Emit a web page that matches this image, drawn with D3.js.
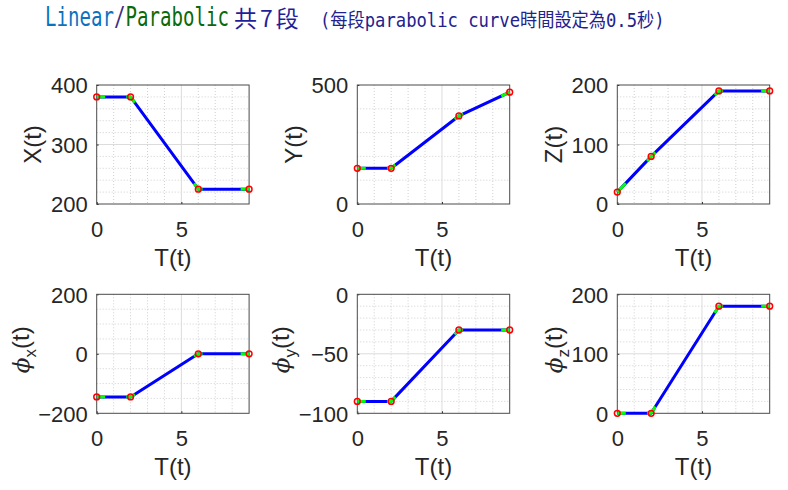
<!DOCTYPE html>
<html><head><meta charset="utf-8">
<script src="https://cdn.jsdelivr.net/npm/d3@7"></script>
<style>body{margin:0;background:#fff} svg{display:block}</style>
</head><body><svg id="c" width="788" height="490"></svg>
<script>
// ---------------- data ----------------
const times = [0, 2, 6, 9];          // via-point times (s)
const blendDuration = 0.5;            // parabolic blend length (s)
const xTickValues = [0, 5];
const xMinorStep = 1;
const xDomain = [0, 9];
const xLabel = "T(t)";

const xSeries    = [380, 380, 225, 225];
const ySeries    = [150, 150, 370, 470];
const zSeries    = [20, 80, 190, 190];
const phiXSeries = [-145, -145, 0, 0];
const phiYSeries = [-90, -90, -30, -30];
const phiZSeries = [0, 0, 180, 180];

const panelNames   = ["X", "Y", "Z", "x", "y", "z"];   // last three are ϕ subscripts
const yDomains     = [[200, 400], [0, 500], [0, 200], [-200, 200], [-100, 0], [0, 200]];
const yTickValues  = [[200, 300, 400], [0, 500], [0, 100, 200], [-200, 0, 200], [-100, -50, 0], [0, 100, 200]];
const yMinorSteps  = [20, 100, 20, 50, 10, 20];

const titleHead = [
  {text: "Linear", color: "#0a72c0"},
  {text: "/", color: "#3b2f86"},
  {text: "Parabolic", color: "#0a6a0a"}
];
const titleMid = "共7段";
const titleNote = "(每段parabolic curve時間設定為0.5秒)";

// ---------------- layout ----------------
const allSeries = [xSeries, ySeries, zSeries, phiXSeries, phiYSeries, phiZSeries];
const colLeft = [96.7, 357.3, 617.3];
const rowTop = [85, 294.3];
const pw = 152.4, ph = 119;
const axisColor = "#262626";
const tickFont = "'Liberation Sans', Arial, Helvetica, sans-serif";
const monoFont = "'DejaVu Sans Mono', 'Noto Sans CJK TC', monospace";

const svg = d3.select("#c");

// title: condensed with a horizontal scale so each piece fits its width
function fitText(sel, targetW) {
  const w = sel.node().getComputedTextLength();
  const x0 = +sel.attr("data-x"), y0 = +sel.attr("data-y");
  sel.attr("transform", `translate(${x0},${y0}) scale(${targetW / w},1)`);
}
const head = svg.append("text")
  .attr("data-x", 45).attr("data-y", 26)
  .attr("font-family", monoFont).attr("font-size", 26);
titleHead.forEach(p => head.append("tspan").attr("fill", p.color).text(p.text));
fitText(head, 184);
svg.append("text")
  .attr("x", 234).attr("y", 27)
  .attr("font-family", "'Noto Sans CJK TC', sans-serif").attr("font-size", 23)
  .attr("letter-spacing", 3)
  .attr("fill", "#1f1f9a").text(titleMid);
const note = svg.append("text")
  .attr("data-x", 320).attr("data-y", 26.5)
  .attr("font-family", monoFont).attr("font-size", 19)
  .attr("fill", "#22228f").text(titleNote);
fitText(note, 345);

function range(a, b, step) {
  const out = [];
  for (let v = a; v <= b + 1e-9; v += step) out.push(+v.toFixed(6));
  return out;
}

allSeries.forEach((vals, i) => {
  const col = i % 3, row = Math.floor(i / 3);
  const g = svg.append("g").attr("transform", `translate(${colLeft[col]},${rowTop[row]})`);
  const x = d3.scaleLinear().domain(xDomain).range([0, pw]);
  const y = d3.scaleLinear().domain(yDomains[i]).range([ph, 0]);

  // minor grid
  const xMinor = range(xDomain[0], xDomain[1], xMinorStep).filter(v => !xTickValues.includes(v) && v > xDomain[0] && v < xDomain[1]);
  const yMinor = range(yDomains[i][0], yDomains[i][1], yMinorSteps[i]).filter(v => !yTickValues[i].includes(v) && v > yDomains[i][0] && v < yDomains[i][1]);
  g.selectAll(".mgx").data(xMinor).join("line")
    .attr("x1", d => x(d)).attr("x2", d => x(d)).attr("y1", 0).attr("y2", ph)
    .attr("stroke", "#c4c4c4").attr("stroke-width", 0.8).attr("stroke-dasharray", "1,2");
  g.selectAll(".mgy").data(yMinor).join("line")
    .attr("y1", d => y(d)).attr("y2", d => y(d)).attr("x1", 0).attr("x2", pw)
    .attr("stroke", "#c4c4c4").attr("stroke-width", 0.8).attr("stroke-dasharray", "1,2");
  // major grid
  g.selectAll(".gx").data(xTickValues.filter(v => v > xDomain[0] && v < xDomain[1])).join("line")
    .attr("x1", d => x(d)).attr("x2", d => x(d)).attr("y1", 0).attr("y2", ph)
    .attr("stroke", "#dcdcdc").attr("stroke-width", 1);
  g.selectAll(".gy").data(yTickValues[i].filter(v => v > yDomains[i][0] && v < yDomains[i][1])).join("line")
    .attr("y1", d => y(d)).attr("y2", d => y(d)).attr("x1", 0).attr("x2", pw)
    .attr("stroke", "#dcdcdc").attr("stroke-width", 1);

  // axes
  const xAx = g.append("g").attr("transform", `translate(0,${ph})`)
    .call(d3.axisBottom(x).tickValues(xTickValues).tickSizeInner(-2).tickSizeOuter(0).tickPadding(17).tickFormat(d3.format("d")));
  const yAx = g.append("g")
    .call(d3.axisLeft(y).tickValues(yTickValues[i]).tickSizeInner(-2).tickSizeOuter(0).tickPadding(9).tickFormat(d3.format("d")));
  [xAx, yAx].forEach(a => {
    a.select(".domain").remove();
    a.selectAll("line").attr("stroke", axisColor);
    a.selectAll("text").attr("font-family", tickFont).attr("font-size", 22).attr("fill", axisColor);
  });
  yAx.selectAll("text").attr("dy", "0.36em");
  // box
  g.append("rect").attr("x", 0).attr("y", 0).attr("width", pw).attr("height", ph)
    .attr("fill", "none").attr("stroke", "#4a4a4a").attr("stroke-width", 1);

  // curve: blue linear, green parabolic-blend windows
  const interp = d3.scaleLinear().domain(times).range(vals);
  const line = d3.line().x(d => x(d[0])).y(d => y(d[1]));
  const pts = times.map((t, k) => [t, vals[k]]);
  g.append("path").attr("d", line(pts)).attr("fill", "none")
    .attr("stroke", "#0000ff").attr("stroke-width", 3).attr("stroke-linejoin", "round");
  const n = times.length;
  const windows = times.map((t, k) => {
    if (k === 0) return [t, t + blendDuration];
    if (k === n - 1) return [t - blendDuration, t];
    return [t - blendDuration / 2, t + blendDuration / 2];
  });
  windows.forEach((w, k) => {
    const seg = [[w[0], interp(w[0])]];
    if (times[k] > w[0] && times[k] < w[1]) seg.push([times[k], vals[k]]);
    seg.push([w[1], interp(w[1])]);
    g.append("path").attr("d", line(seg)).attr("fill", "none")
      .attr("stroke", "#00ff00").attr("stroke-width", 3).attr("stroke-linejoin", "round");
  });
  g.selectAll(".mk").data(pts).join("circle")
    .attr("cx", d => x(d[0])).attr("cy", d => y(d[1])).attr("r", 2.9)
    .attr("fill", "none").attr("stroke", "#ff0000").attr("stroke-width", 1.5);

  // x label
  g.append("text").attr("x", pw / 2).attr("y", ph + 61.5)
    .attr("text-anchor", "middle").attr("font-family", tickFont).attr("font-size", 24)
    .attr("fill", axisColor).text(xLabel);

  // y label, placed left of the widest tick label
  let minX = Infinity;
  yAx.selectAll("text").each(function() { minX = Math.min(minX, this.getBBox().x); });
  const lx = minX - 9.5;
  const lab = g.append("text")
    .attr("transform", `translate(${lx},${ph / 2 - (row === 0 ? 0 : 4)}) rotate(-90)`)
    .attr("text-anchor", "middle").attr("font-family", tickFont).attr("font-size", 24)
    .attr("fill", axisColor);
  if (row === 0) {
    lab.text(panelNames[i] + "(t)");
  } else {
    lab.append("tspan").attr("font-family", "'DejaVu Serif', serif").attr("font-style", "italic").attr("font-size", 23).text("ϕ");
    lab.append("tspan").attr("font-size", 17).attr("dy", 7).text(panelNames[i]);
    lab.append("tspan").attr("dy", -7).text("(t)");
  }
});
</script>
</body></html>
